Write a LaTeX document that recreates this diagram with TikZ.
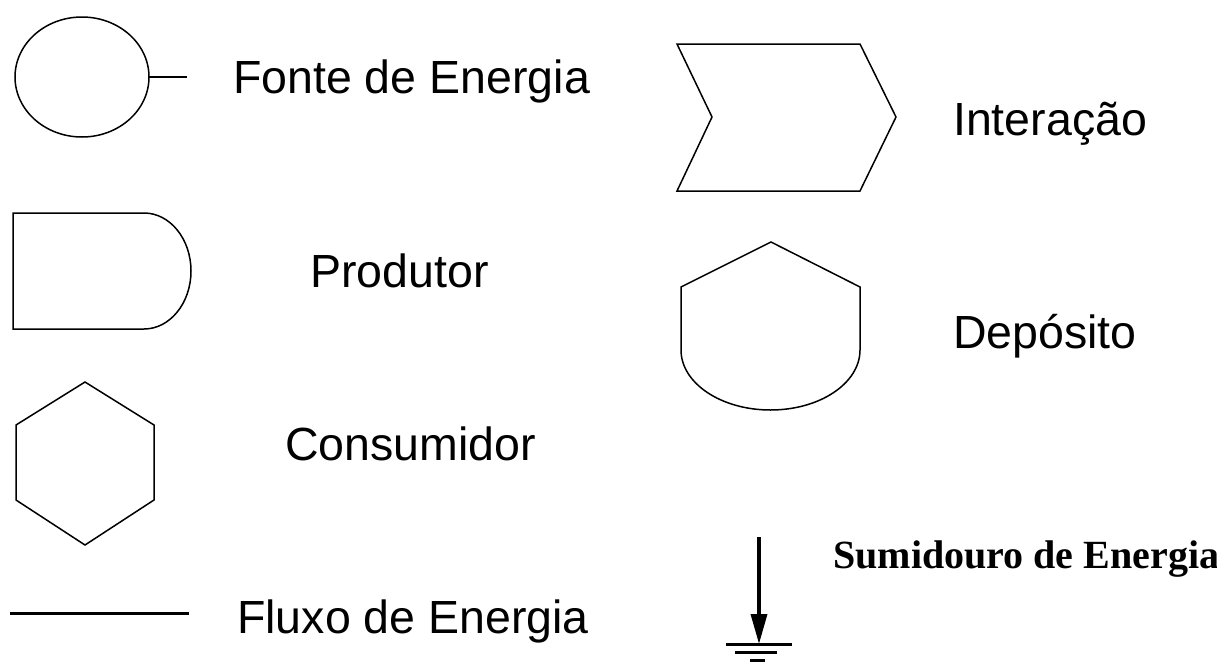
\documentclass[tikz,border=0pt]{standalone}
\usepackage{fontspec}
\setmainfont{Liberation Sans}
\newfontfamily\timesbold{Liberation Serif}[BoldFont={Liberation Serif Bold}]
\usepackage{tikz}
\usetikzlibrary{arrows.meta,positioning}
\tikzstyle{symb} = [line width=1.5pt, line join=miter]
\tikzstyle{label} = [anchor=base west, inner sep=0pt, font=\fontsize{46.5}{50}\selectfont]
\tikzstyle{sinklabel} = [anchor=base west, inner sep=0pt, font=\timesbold\bfseries\fontsize{40}{44}\selectfont]

\begin{document}
\begin{tikzpicture}[x=1pt, y=-1pt]
\useasboundingbox (0,0) rectangle (1217,664);

% Energy source
\draw[symb] (82,77) ellipse [x radius=67pt, y radius=60pt];
\coordinate (srcR) at (149,77);
\coordinate (srcE) at (187,77);
\draw[symb] (srcR) -- (srcE);
\node[label] (fonte) at (233,93) {Fonte de Energia};

% Producer
\draw[symb] (144,213) -- (13,213) -- (13,329) -- (144,329)
  arc[start angle=-90, end angle=90, x radius=47pt, y radius=58pt];
\node[label] (produtor) at (310,287) {Produtor};

% Consumer
\draw[symb] (85,382) -- (154,425) -- (154,500) -- (85,545) -- (16,500) -- (16,425) -- cycle;
\node[label] (consumidor) at (285,460) {Consumidor};

% Energy flow
\coordinate (fluxA) at (10,613);
\coordinate (fluxB) at (189,613);
\draw[line width=3pt] (fluxA) -- (fluxB);
\node[label] (fluxo) at (237,633) {Fluxo de Energia};

% Interaction
\draw[symb] (677,44) -- (860,44) -- (896,117) -- (860,191) -- (677,191) -- (712,117) -- cycle;
\node[label] (interacao) at (953,135) {Interação};

% Storage
\draw[symb] (681,350) -- (681,287) -- (771,242) -- (860,287) -- (860,350)
  arc[start angle=0, end angle=-180, x radius=89.5pt, y radius=60pt];
\node[label] (deposito) at (953,348) {Depósito};

% Heat sink
\coordinate (sinkTop) at (759,537);
\coordinate (sinkTip) at (759,644);
\draw[line width=3.5pt, -{Triangle[width=16pt, length=30pt]}] (sinkTop) -- (sinkTip);
\draw[line width=3pt] (726,644) -- (792,644);
\draw[line width=3pt] (735,652) -- (777,652);
\draw[line width=3pt] (750,660) -- (765,660);
\node[sinklabel] (sumidouro) at (833,568) {Sumidouro de Energia};
\end{tikzpicture}
\end{document}
